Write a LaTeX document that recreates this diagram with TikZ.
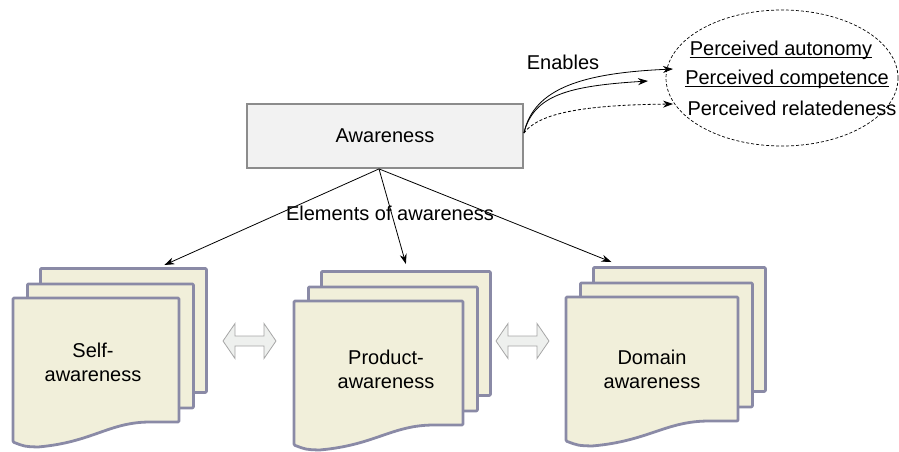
\documentclass[tikz,border=0pt]{standalone}
\usepackage{fontspec}
\setmainfont{Liberation Sans}
\usetikzlibrary{arrows.meta,calc,shapes.geometric}
\definecolor{sheetline}{HTML}{8A8AA6}
\definecolor{sheetfill}{HTML}{F1EFDA}
\definecolor{boxline}{HTML}{8C8C8C}
\definecolor{boxfill}{HTML}{F2F2F2}
\definecolor{dblfill}{HTML}{EEF0EE}
\definecolor{dblline}{HTML}{A6A6A6}

\tikzset{
  txt/.style={font=\fontsize{20}{24}\selectfont, inner sep=0pt, align=center},
  sheet/.style={draw=sheetline, fill=sheetfill, line width=2.8pt, line join=round, rounded corners=1pt},
  awbox/.style={draw=boxline, fill=boxfill, line width=1.8pt, inner sep=0pt},
  conn/.style={line width=0.8pt, -{Stealth[length=10pt,width=7pt]}},
  dbl/.style={draw=dblline, fill=dblfill, line width=0.8pt, line join=miter},
  perc/.style={ellipse, draw, dashed, dash pattern=on 3pt off 2pt, line width=0.7pt},
  uline/.style={line width=1pt}
}

% #1 name, #2 #3 top-left of the front sheet, #4 width, #5 label, #6 #7 label centre
\newcommand\docstack[7]{%
  \node[sheet, anchor=north west, minimum width=#4pt, minimum height=124pt] (#1back) at ({#2+26},{#3-31}) {};
  \node[sheet, anchor=north west, minimum width=#4pt, minimum height=124pt] (#1mid) at ({#2+13},{#3-15.5}) {};
  \draw[sheet] (#2,#3) -- ({#2+#4},#3) -- ({#2+#4},{#3+124}) -- ({#2+#4-28},{#3+124})
    .. controls ({#2+0.58*#4},{#3+124}) and ({#2+0.48*#4},{#3+144}) .. ({#2+0.15*#4},{#3+149})
    .. controls ({#2+0.07*#4},{#3+148.5}) .. (#2,{#3+144}) -- cycle;
  \node[txt] (#1) at (#6,#7) {#5};
}

% horizontal double-headed block arrow centred at (#1,#2)
\newcommand\dblarrow[2]{%
  \draw[dbl] ({#1-26.5},#2) -- ({#1-14.5},{#2-17.5}) -- ({#1-14.5},{#2-5}) -- ({#1+14.5},{#2-5})
    -- ({#1+14.5},{#2-17.5}) -- ({#1+26.5},#2) -- ({#1+14.5},{#2+17.5}) -- ({#1+14.5},{#2+5})
    -- ({#1-14.5},{#2+5}) -- ({#1-14.5},{#2+17.5}) -- cycle;
}

\begin{document}
\begin{tikzpicture}[x=1pt,y=-1pt]
\useasboundingbox (0,0) rectangle (899,451);

% central box
\node[awbox, txt, minimum width=276pt, minimum height=64pt] (aw) at (385,136) {Awareness};

% perceived needs
\node[perc, minimum width=232pt, minimum height=136pt] (needs) at (782,78) {};
\node[txt] (auto) at (781,50) {Perceived autonomy};
\node[txt] (comp) at (787,79) {Perceived competence};
\node[txt] (rel) at (792,108) {Perceived relatedeness};
\draw[uline] ([yshift=-2.5pt]auto.base west) -- ([yshift=-2.5pt]auto.base east);
\draw[uline] ([yshift=-2.5pt]comp.base west) -- ([yshift=-2.5pt]comp.base east);

% arrow ends on the ellipse side
\coordinate (t1) at (673,69);
\coordinate (t2) at (648,81);
\coordinate (t3) at (673,104);
\coordinate (s1) at ([yshift=3pt]aw.east);

\draw[conn] (s1) .. controls +(10,-45) and +(-90,4) .. (t1);
\draw[conn] (s1) .. controls +(10,-38) and +(-80,5) .. (t2);
\draw[conn, dashed, dash pattern=on 3pt off 2pt] (s1) .. controls +(15,-20) and +(-90,1) .. (t3);
\node[txt] (en) at (563,62) {Enables};

% element stacks
\docstack{self}{13}{298}{166}{Self-\\awareness}{93}{362}
\docstack{prod}{294}{301}{169}{Product-\\awareness}{386}{369}
\docstack{dom}{566}{297}{172}{Domain\\awareness}{652}{369}

\dblarrow{249.5}{341}
\dblarrow{522.5}{341}

% links to the elements
\draw[conn] ([xshift=-6pt]aw.south) -- ([xshift=41pt,yshift=2pt]selfback.north);
\draw[conn] ([xshift=-6pt]aw.south) -- ([yshift=6pt]prodback.north);
\draw[conn] ([xshift=-6pt]aw.south) -- ([xshift=-68pt,yshift=4pt]domback.north);
\node[txt] (elem) at (390,213) {Elements of awareness};
\end{tikzpicture}
\end{document}
